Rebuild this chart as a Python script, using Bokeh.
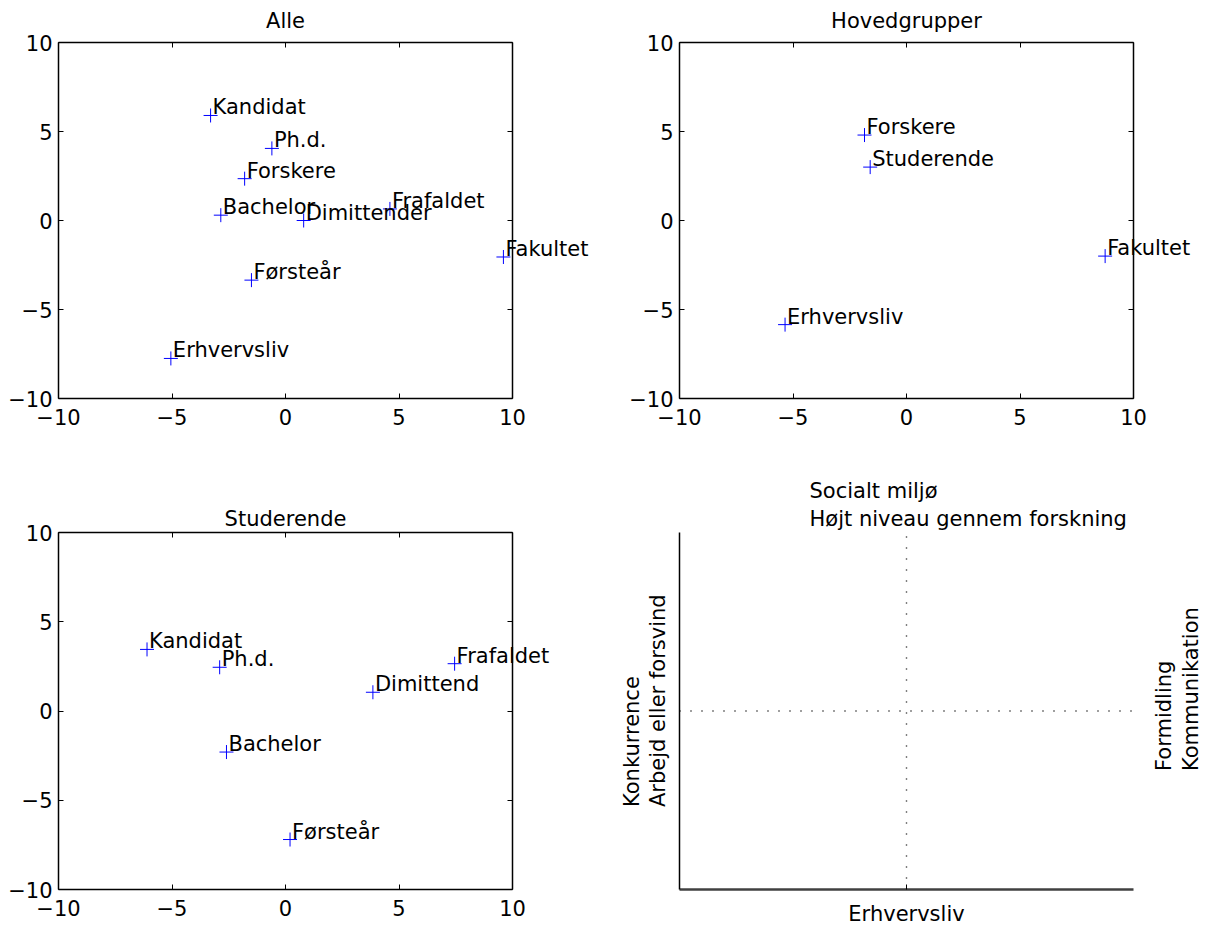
import numpy as np
from bokeh.plotting import figure
from bokeh.models import (Range1d, LinearAxis, FixedTicker, Label, LabelSet,
                          ColumnDataSource)
from bokeh.layouts import column, row
from bokeh.embed import file_html
from bokeh.resources import INLINE
from bokeh.core.properties import value

FONT = "DejaVu Sans"
FS = "21px"

# ---- data ----
alle_names = ["Kandidat", "Ph.d.", "Forskere", "Bachelor", "Dimittender",
              "Frafaldet", "Fakultet", "Førsteår", "Erhvervsliv"]
alle_x = [-3.3, -0.6, -1.8, -2.85, 0.8, 4.6, 9.6, -1.5, -5.05]
alle_y = [5.9, 4.05, 2.35, 0.3, 0.0, 0.65, -2.05, -3.35, -7.75]

hoved_names = ["Forskere", "Studerende", "Fakultet", "Erhvervsliv"]
hoved_x = [-1.85, -1.6, 8.75, -5.35]
hoved_y = [4.8, 3.0, -2.0, -5.85]

stud_names = ["Kandidat", "Ph.d.", "Frafaldet", "Dimittend", "Bachelor", "Førsteår"]
stud_x = [-6.1, -2.9, 7.45, 3.85, -2.6, 0.2]
stud_y = [3.45, 2.45, 2.65, 1.05, -2.3, -7.2]

ticks = [-10, -5, 0, 5, 10]
tick_labels = ["\u221210", "\u22125", "0", "5", "10"]

titles = ["Alle", "Hovedgrupper", "Studerende"]
top_lines = ["Socialt miljø", "Højt niveau gennem forskning"]
left_lines = ["Konkurrence", "Arbejd eller forsvind"]
right_lines = ["Formidling", "Kommunikation"]
bottom_label = "Erhvervsliv"
ref_x = [0]
ref_y = [0]

LO, HI = -10, 10  # axis limits of every panel


def make_panel(cw, fl, fw, ch, ft, fh):
    """Figure whose frame fills the canvas; the axes box sits at LO..HI."""
    ux = fw / (HI - LO)
    uy = fh / (HI - LO)
    xr = Range1d(LO - fl / ux, HI + (cw - fl - fw) / ux)
    yr = Range1d(LO - (ch - ft - fh) / uy, HI + ft / uy)
    p = figure(width=cw, height=ch, x_range=xr, y_range=yr,
               output_backend="svg", toolbar_location=None,
               min_border=0, min_border_left=0, min_border_right=0,
               min_border_top=0, min_border_bottom=0,
               x_axis_location=None, y_axis_location=None)
    p.grid.visible = False
    p.outline_line_color = None
    p.background_fill_color = "white"
    p.border_fill_color = "white"
    return p


def add_axis(p, side, show_labels, standoff, loc, tks=ticks, color="black",
             lw=1.5):
    ax = LinearAxis(ticker=FixedTicker(ticks=tks), fixed_location=loc,
                    bounds=(LO, HI))
    ax.major_label_overrides = {t: l for t, l in zip(ticks, tick_labels)}
    ax.major_tick_in = 5
    ax.major_tick_out = 0
    ax.minor_tick_line_color = None
    ax.axis_line_color = color
    ax.axis_line_width = lw
    ax.major_tick_line_color = "black"
    ax.major_tick_line_width = 1
    ax.major_label_text_font = FONT
    ax.major_label_text_font_size = FS
    ax.major_label_text_color = "black" if show_labels else None
    ax.major_label_standoff = standoff
    p.add_layout(ax, side)
    return ax


def text_label(p, x, y, txt, xo=0, yo=0, align="left", angle=0.0):
    p.add_layout(Label(x=x, y=y, x_offset=xo, y_offset=yo, text=txt,
                       angle=angle, text_font=FONT, text_font_size=FS,
                       text_color="black", text_align=align,
                       text_baseline="middle"))


def scatter_panel(p, names, xs, ys, title, title_off):
    add_axis(p, "below", True, 10, LO)
    add_axis(p, "left", True, 6, LO)
    add_axis(p, "above", False, 0, HI)
    add_axis(p, "right", False, 0, HI)
    src = ColumnDataSource(dict(x=xs, y=ys, name=names))
    p.scatter("x", "y", source=src, marker="cross", size=14,
              line_color="#0000ff", line_width=1)
    p.add_layout(LabelSet(x="x", y="y", text="name", source=src,
                          x_offset=2, y_offset=1, text_font=value(FONT),
                          text_font_size=value(FS), text_color="black",
                          text_align="left", text_baseline="alphabetic"))
    text_label(p, 0, HI, title, yo=title_off, align="center")


# canvas / frame geometry (pixels)
LW, RW = 598, 610
TH, BH = 460, 465
FW = 454

p1 = make_panel(LW, 58, FW, TH, 42, 356)
scatter_panel(p1, alle_names, alle_x, alle_y, titles[0], 22)

p2 = make_panel(RW, 81, FW, TH, 42, 356)
scatter_panel(p2, hoved_names, hoved_x, hoved_y, titles[1], 22)

p3 = make_panel(LW, 58, FW, BH, 72, 357)
scatter_panel(p3, stud_names, stud_x, stud_y, titles[2], 14)

# ---- bottom-right schematic panel ----
p4 = make_panel(RW, 81, FW, BH, 72, 357)
add_axis(p4, "below", False, 0, LO, tks=[0], color="#404040", lw=2.5)
add_axis(p4, "left", False, 0, LO, tks=[], color="black", lw=1.5)

p4.segment(x0=ref_x, y0=[LO], x1=ref_x, y1=[HI], line_color="black",
           line_width=1.4, line_dash="1 10")
p4.segment(x0=[LO], y0=ref_y, x1=[HI], y1=ref_y, line_color="black",
           line_width=1.4, line_dash="1 10")

for txt, yo in zip(top_lines, [42, 14]):
    text_label(p4, LO, HI, txt, xo=130, yo=yo)
for txt, xo in zip(left_lines, [-48, -22]):
    text_label(p4, LO, 0, txt, xo=xo, yo=-96, angle=np.pi / 2)
for txt, xo in zip(right_lines, [30, 57]):
    text_label(p4, HI, 0, txt, xo=xo, yo=-60, angle=np.pi / 2)
text_label(p4, 0, LO, bottom_label, yo=-24, align="center")

layout = column(row(p1, p2), row(p3, p4))
open("out.html", "w").write(file_html(layout, INLINE))
